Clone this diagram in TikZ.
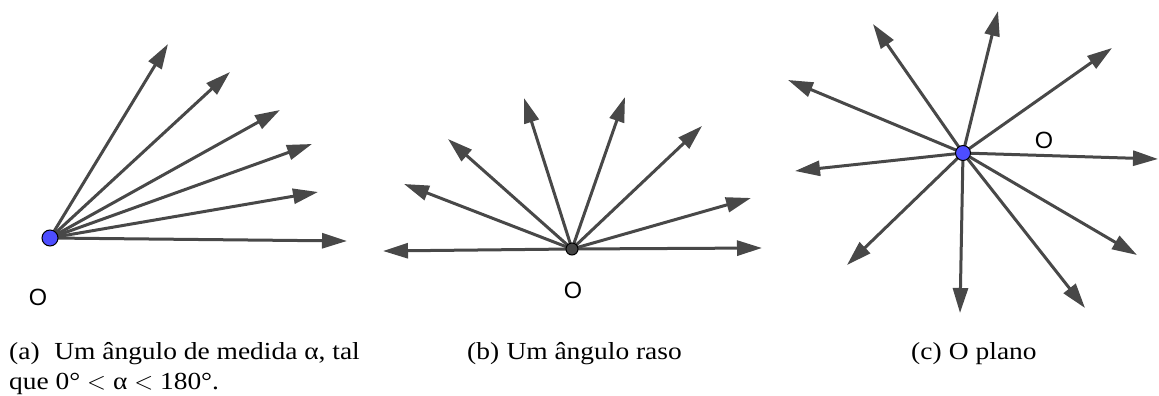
\documentclass[tikz,border=0pt]{standalone}
\usepackage{fontspec}
\setmainfont[FakeStretch=1.12]{Liberation Serif}
\newfontfamily\labelfont{Liberation Sans}
\usetikzlibrary{arrows.meta}
\definecolor{raycol}{RGB}{72,72,72}
\definecolor{dotblue}{RGB}{77,77,255}
\definecolor{dotgray}{RGB}{68,68,68}
\tikzset{
  ray/.style={draw=raycol, line width=3pt, -{Triangle[length=25pt,width=15pt]}},
  bluedot/.style={circle, draw=black, line width=1pt, fill=dotblue, inner sep=0pt, minimum size=#1},
  graydot/.style={circle, draw=black, line width=1pt, fill=dotgray, inner sep=0pt, minimum size=12pt},
  ptlabel/.style={font=\labelfont\fontsize{23.5}{25}\selectfont, inner sep=0pt},
  caption/.style={font=\fontsize{24.5}{30}\selectfont, inner sep=0pt, anchor=base west, align=left}
}
\begin{document}
\begin{tikzpicture}[x=1pt,y=-1pt]
\useasboundingbox (0,0) rectangle (1159,396);
% ---------- panel (a)
\coordinate (ca) at (50,238);
\coordinate (a1) at (347,241);
\coordinate (a2) at (318,192);
\coordinate (a3) at (312,144);
\coordinate (a4) at (280,110);
\coordinate (a5) at (230,72);
\coordinate (a6) at (168,44);
\foreach \t in {a1,a2,a3,a4,a5,a6} \draw[ray] (ca) -- (\t);
\node[bluedot=16pt] (A) at (ca) {};
\node[ptlabel] (OA) at (38,297) {O};
% ---------- panel (b)
\coordinate (cb) at (572,249);
\coordinate (b1) at (762,248);
\coordinate (b2) at (751,198);
\coordinate (b3) at (702,126);
\coordinate (b4) at (625,97);
\coordinate (b5) at (524,98);
\coordinate (b6) at (448,139);
\coordinate (b7) at (404,184);
\coordinate (b8) at (383,251);
\foreach \t in {b1,b2,b3,b4,b5,b6,b7,b8} \draw[ray] (cb) -- (\t);
\node[graydot] (B) at (cb) {};
\node[ptlabel] (OB) at (573,290) {O};
% ---------- panel (c)
\coordinate (cc) at (963,153);
\coordinate (c1) at (1158,159);
\coordinate (c2) at (1112,48);
\coordinate (c3) at (998,11);
\coordinate (c4) at (873,24);
\coordinate (c5) at (788,80);
\coordinate (c6) at (795,171);
\coordinate (c7) at (847,265);
\coordinate (c8) at (960,313);
\coordinate (c9) at (1085,308);
\coordinate (c10) at (1137,255);
\foreach \t in {c1,c2,c3,c4,c5,c6,c7,c8,c9,c10} \draw[ray] (cc) -- (\t);
\node[bluedot=15pt] (C) at (cc) {};
\node[ptlabel] (OC) at (1044,140) {O};
% ---------- captions
\node[caption] (capa) at (9,389) {(a)\hspace{0.6em}Um ângulo de medida α, tal\\que 0° $<$ α $<$ 180°.};
\node[caption] (capb) at (467,359) {(b)\hspace{0.3em}Um ângulo raso};
\node[caption] (capc) at (911,359) {(c)\hspace{0.3em}O plano};
\end{tikzpicture}
\end{document}
